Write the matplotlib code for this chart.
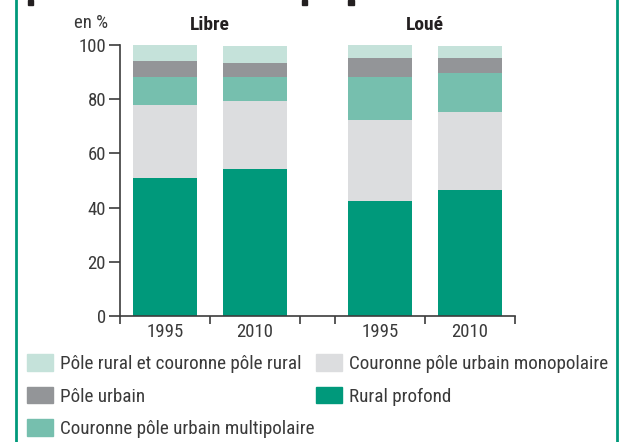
import numpy as np
import matplotlib.pyplot as plt
from matplotlib.patches import Patch, Rectangle
from matplotlib.lines import Line2D

plt.rcParams['font.family'] = ['Liberation Sans Narrow', 'Roboto Condensed', 'DejaVu Sans']
plt.rcParams['font.stretch'] = 'condensed'

groups = ['Libre', 'Loué']
years = ['1995', '2010']
series = ['Rural profond', 'Couronne pôle urbain monopolaire',
          'Couronne pôle urbain multipolaire', 'Pôle urbain',
          'Pôle rural et couronne pôle rural']
# values in %, order: Libre 1995, Libre 2010, Loué 1995, Loué 2010
rural_profond = [50.9, 54.2, 42.4, 46.5]
couronne_mono = [27.0, 25.1, 29.9, 28.8]
couronne_multi = [10.3, 8.9, 15.9, 14.4]
pole_urbain = [5.9, 5.2, 7.0, 5.5]
pole_rural = [5.9, 6.2, 4.8, 4.4]
colors = ['#00997b', '#dcdddf', '#76bfae', '#939598', '#c5e2da']

values = [rural_profond, couronne_mono, couronne_multi, pole_urbain, pole_rural]
text_col = '#3a3a3a'
axis_col = '#3c3c3c'

fig = plt.figure(figsize=(6.23, 4.42), dpi=100)
ax = fig.add_axes([120 / 623, 1 - 316 / 442, 395 / 623, 271 / 442])

group_start = [0, 2.39]
pos = np.array([s + 0.5 + i for s in group_start for i in range(len(years))])
bottom = np.zeros(len(pos))
for name, vals, c in zip(series, values, colors):
    ax.bar(pos, vals, width=0.72, bottom=bottom, color=c, label=name)
    bottom += np.array(vals)

ax.set_xlim(0, 4.39)
ax.set_ylim(0, 100)
ax.set_yticks(np.arange(0, 101, 20))
ax.set_xticks([s + i for s in group_start for i in range(3)])
ax.set_xticklabels([])
ax.set_xticks(pos, minor=True)
ax.set_xticklabels(years * len(groups), minor=True)
ax.tick_params(axis='x', which='major', direction='out', length=6, width=1.2, color=axis_col)
ax.tick_params(axis='x', which='minor', length=0, pad=5, labelsize=13.5, labelcolor=text_col)
ax.tick_params(axis='y', direction='out', length=8, width=1.2, color=axis_col,
               pad=2, labelsize=13.5, labelcolor=text_col)
for s in ['top', 'right']:
    ax.spines[s].set_visible(False)
for s in ['left', 'bottom']:
    ax.spines[s].set_color(axis_col)
    ax.spines[s].set_linewidth(1.2)

for s, g in zip(group_start, groups):
    ax.text(s + 1, 1.075, g, transform=ax.get_xaxis_transform(), ha='center',
            va='center', fontsize=14, fontweight='bold', color='#231f20')
fig.text(74 / 623, 1 - 23 / 442, 'en %', ha='left', va='center', fontsize=13.5, color=text_col)

handles = [Patch(color=c, label=n) for n, c in zip(series, colors)]
leg_kw = dict(frameon=False, fontsize=13.8, handlelength=1.37, handleheight=0.95,
              handletextpad=0.37, labelspacing=0.72, borderpad=0, borderaxespad=0,
              labelcolor=text_col)
order1 = [4, 3, 2]
order2 = [1, 0]
leg1 = fig.legend([handles[i] for i in order1], [series[i] for i in order1],
                  loc='upper left', bbox_to_anchor=(27 / 623, 1 - 354 / 442), **leg_kw)
leg2 = fig.legend([handles[i] for i in order2], [series[i] for i in order2],
                  loc='upper left', bbox_to_anchor=(316 / 623, 1 - 354 / 442), **leg_kw)

# frame lines and cut-off title marks
green = '#00997b'
for xp in [16, 617]:
    fig.add_artist(Line2D([xp / 623] * 2, [0, 1], color=green, lw=2))
for x0, w in [(28, 5), (302, 5), (348, 6)]:
    fig.add_artist(Rectangle((x0 / 623, 1 - 5 / 442), w / 623, 5 / 442,
                             color='#231f20', transform=fig.transFigure))

fig.savefig('out.png', dpi=100)
